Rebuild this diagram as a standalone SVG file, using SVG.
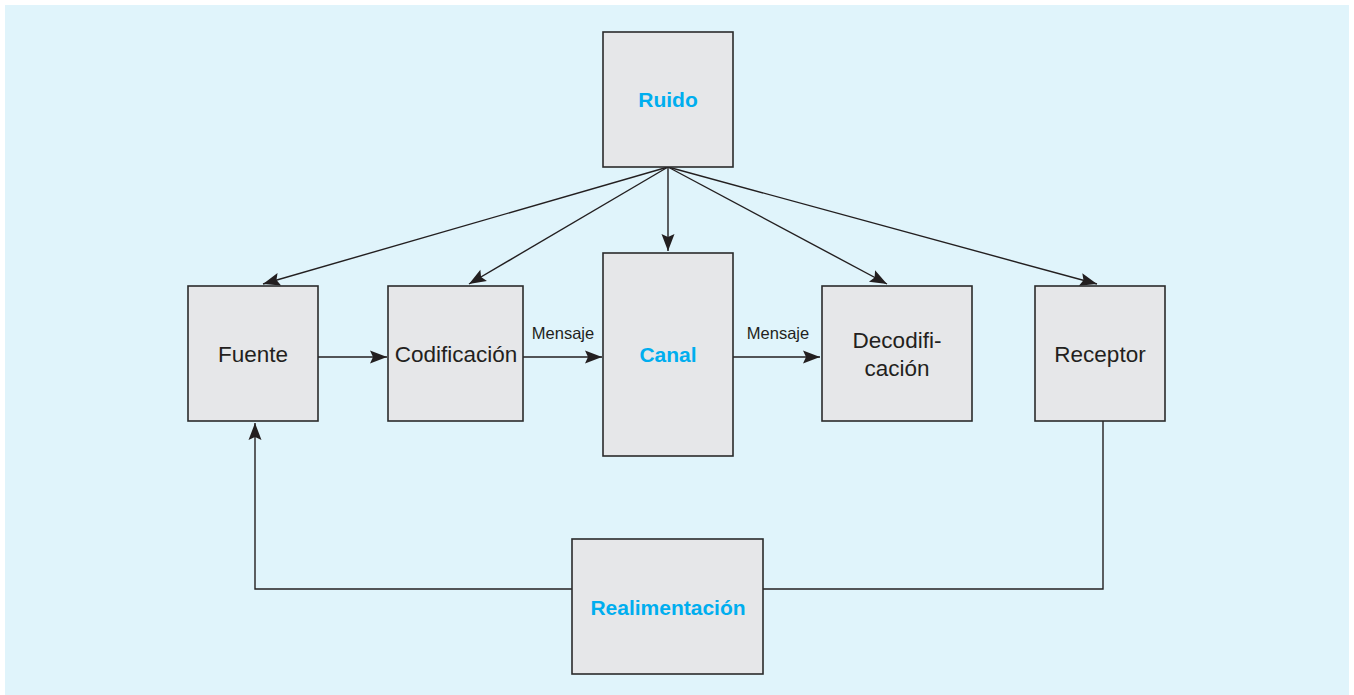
<svg xmlns="http://www.w3.org/2000/svg" width="1354" height="695" viewBox="0 0 1354 695">
<defs>
<marker id="ah" markerUnits="userSpaceOnUse" markerWidth="20" markerHeight="16" viewBox="-1 -8 20 16" refX="17" refY="0" orient="auto">
<path d="M0,-6.5 L17,0 L0,6.5 L3,0 Z" fill="#231f20"/>
</marker>
<style>
.box{fill:#e6e7e9;stroke:#2b2b2b;stroke-width:1.6}
.lbl{font-family:"Liberation Sans",Arial,sans-serif;font-size:22.5px;fill:#231f20;text-anchor:middle}
.blue{font-family:"Liberation Sans",Arial,sans-serif;font-size:21px;font-weight:bold;fill:#00aeef;text-anchor:middle}
.small{font-family:"Liberation Sans",Arial,sans-serif;font-size:16.5px;fill:#231f20;text-anchor:middle}
.con{fill:none;stroke:#231f20;stroke-width:1.4}
.arr{fill:none;stroke:#231f20;stroke-width:1.4;marker-end:url(#ah)}
</style>
</defs>
<rect x="5" y="5" width="1344" height="690" fill="#e0f4fb"/>
<g id="connectors">
<line class="arr" x1="668" y1="167" x2="263" y2="284"/>
<line class="arr" x1="668" y1="167" x2="469" y2="284"/>
<line class="arr" x1="668" y1="167" x2="668" y2="251"/>
<line class="arr" x1="668" y1="167" x2="887" y2="284"/>
<line class="arr" x1="668" y1="167" x2="1097" y2="284"/>
<line class="arr" x1="318" y1="357" x2="387" y2="357"/>
<line class="arr" x1="523" y1="357" x2="602" y2="357"/>
<line class="arr" x1="733" y1="357" x2="820" y2="357"/>
<polyline class="con" points="1103,421 1103,589 763,589"/>
<polyline class="arr" points="572,589 255,589 255,423"/>
<text class="small" x="563" y="339">Mensaje</text>
<text class="small" x="778" y="339">Mensaje</text>
</g>
<g id="ruido">
<rect class="box" x="603" y="32" width="130" height="135"/>
<text class="blue" x="668" y="107">Ruido</text>
</g>
<g id="fuente">
<rect class="box" x="188" y="286" width="130" height="135"/>
<text class="lbl" x="253" y="362">Fuente</text>
</g>
<g id="codificacion">
<rect class="box" x="388" y="286" width="135" height="135"/>
<text class="lbl" x="456" y="362">Codificación</text>
</g>
<g id="canal">
<rect class="box" x="603" y="253" width="130" height="203"/>
<text class="blue" x="668" y="362">Canal</text>
</g>
<g id="decodificacion">
<rect class="box" x="822" y="286" width="150" height="135"/>
<text class="lbl" x="897" y="348">Decodifi-</text>
<text class="lbl" x="897" y="376">cación</text>
</g>
<g id="receptor">
<rect class="box" x="1035" y="286" width="130" height="135"/>
<text class="lbl" x="1100" y="362">Receptor</text>
</g>
<g id="realimentacion">
<rect class="box" x="572" y="539" width="191" height="135"/>
<text class="blue" x="668" y="615">Realimentación</text>
</g>
</svg>
